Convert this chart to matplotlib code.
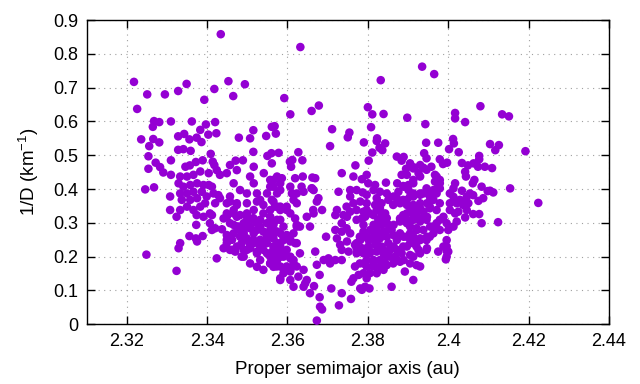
import matplotlib
matplotlib.use("Agg")
import matplotlib.pyplot as plt

plt.rcParams['font.family'] = ['Liberation Sans', 'DejaVu Sans']
plt.rcParams['mathtext.fontset'] = 'custom'
plt.rcParams['mathtext.rm'] = 'Liberation Sans'
plt.rcParams['mathtext.default'] = 'regular'

# (proper semimajor axis [au], 1/D [1/km]), grouped by region
upper_pts = [
    (2.3434, 0.858), (2.3632, 0.820), (2.3935, 0.762), (2.3965, 0.740), (2.3832, 0.722),
    (2.3218, 0.717), (2.3453, 0.719), (2.3349, 0.711), (2.3494, 0.710), (2.3418, 0.696),
    (2.3328, 0.690), (2.3251, 0.680), (2.3295, 0.680), (2.3465, 0.675), (2.3592, 0.669),
    (2.3393, 0.664), (2.3678, 0.647), (2.4080, 0.645), (2.3800, 0.642), (2.3226, 0.637),
    (2.3660, 0.631), (2.4017, 0.625), (2.3607, 0.621), (2.3811, 0.621), (2.3839, 0.622),
    (2.4134, 0.621), (2.4151, 0.615), (2.3898, 0.611), (2.4017, 0.609), (2.3268, 0.601),
    (2.3281, 0.598), (2.3310, 0.600), (2.3362, 0.600), (2.3420, 0.598), (2.4042, 0.598),
    (2.3397, 0.591), (2.3943, 0.592), (2.3265, 0.584), (2.3561, 0.584), (2.3568, 0.586),
    (2.3808, 0.583), (2.3711, 0.577), (2.3383, 0.575), (2.3515, 0.574), (2.3754, 0.567),
    (2.3423, 0.565), (2.3571, 0.564), (2.3403, 0.561), (2.3343, 0.563), (2.3328, 0.556),
    (2.3547, 0.557), (2.3750, 0.553), (2.3374, 0.552), (2.3479, 0.552), (2.3507, 0.550),
    (2.3823, 0.550), (2.4012, 0.548), (2.3236, 0.547), (2.3266, 0.548), (2.3356, 0.547),
    (2.3822, 0.542), (2.3386, 0.539), (2.3281, 0.538), (2.3790, 0.538), (2.3945, 0.537),
    (2.3975, 0.537), (2.3843, 0.535), (2.4014, 0.535), (2.4104, 0.533), (2.4126, 0.530),
    (2.3256, 0.527), (2.3706, 0.527), (2.3829, 0.522), (2.3341, 0.518), (2.4002, 0.518),
    (2.3328, 0.516), (2.3836, 0.515), (2.4117, 0.515), (2.3359, 0.513), (2.4192, 0.512),
    (2.3515, 0.510), (2.3627, 0.509), (2.4026, 0.509), (2.3811, 0.508), (2.3578, 0.507),
    (2.3560, 0.506), (2.3940, 0.506), (2.3409, 0.504), (2.3550, 0.498), (2.4077, 0.498),
    (2.3254, 0.497), (2.3872, 0.496), (2.3889, 0.495), (2.3946, 0.491), (2.3979, 0.488),
    (2.4077, 0.488), (2.3310, 0.485), (2.3389, 0.485), (2.3489, 0.485), (2.3637, 0.485),
    (2.3612, 0.486), (2.3884, 0.484), (2.3471, 0.484), (2.3802, 0.484), (2.3606, 0.481),
    (2.3414, 0.481), (2.3372, 0.480), (2.3272, 0.478), (2.3997, 0.478), (2.4034, 0.477),
    (2.3905, 0.476), (2.4063, 0.476), (2.3987, 0.474), (2.3418, 0.471), (2.3457, 0.471),
    (2.3930, 0.471), (2.3357, 0.470), (2.3769, 0.470), (2.4049, 0.470), (2.3346, 0.466),
    (2.3609, 0.466), (2.3958, 0.466), (2.4074, 0.466), (2.4091, 0.466), (2.3283, 0.465),
    (2.3915, 0.464), (2.3938, 0.463), (2.4109, 0.462), (2.3895, 0.460), (2.3254, 0.460),
]

left_pts = [
    (2.3291, 0.449), (2.3310, 0.442), (2.3333, 0.437), (2.3350, 0.437), (2.3366, 0.442),
    (2.3329, 0.417), (2.3341, 0.407), (2.3358, 0.412), (2.3375, 0.417), (2.3391, 0.412),
    (2.3404, 0.412), (2.3412, 0.407), (2.3387, 0.392), (2.3366, 0.392), (2.3350, 0.387),
    (2.3333, 0.387), (2.3308, 0.378), (2.3337, 0.368), (2.3358, 0.368), (2.3375, 0.373),
    (2.3399, 0.378), (2.3416, 0.387), (2.3428, 0.382), (2.3395, 0.358), (2.3383, 0.348),
    (2.3366, 0.338), (2.3350, 0.348), (2.3333, 0.338), (2.3324, 0.318), (2.3308, 0.338),
    (2.3374, 0.323), (2.3391, 0.318), (2.3407, 0.328), (2.3420, 0.358), (2.3432, 0.373),
    (2.3412, 0.323), (2.3246, 0.399), (2.3268, 0.405), (2.3407, 0.299), (2.3412, 0.279),
    (2.3420, 0.284), (2.3437, 0.281), (2.3373, 0.294), (2.3356, 0.261), (2.3372, 0.254),
    (2.3375, 0.245), (2.3389, 0.261), (2.3333, 0.240), (2.3329, 0.225), (2.3249, 0.206),
    (2.3324, 0.158), (2.3424, 0.195), (2.3441, 0.225), (2.3449, 0.240), (2.3462, 0.250),
    (2.3474, 0.230), (2.3491, 0.200), (2.3462, 0.220), (2.3449, 0.264), (2.3466, 0.269),
    (2.3482, 0.259), (2.3499, 0.250), (2.3516, 0.240), (2.3532, 0.250), (2.3549, 0.259),
    (2.3565, 0.230), (2.3549, 0.210), (2.3524, 0.210), (2.3499, 0.220), (2.3507, 0.180),
    (2.3524, 0.170), (2.3540, 0.161), (2.3557, 0.180), (2.3574, 0.190), (2.3582, 0.136),
    (2.3565, 0.170), (2.3449, 0.447), (2.3474, 0.456), (2.3466, 0.417), (2.3482, 0.397),
    (2.3499, 0.387), (2.3507, 0.437), (2.3516, 0.417), (2.3541, 0.447), (2.3557, 0.427),
    (2.3565, 0.407), (2.3582, 0.397), (2.3549, 0.387), (2.3532, 0.368), (2.3524, 0.387),
    (2.3499, 0.358), (2.3474, 0.358), (2.3457, 0.378), (2.3449, 0.358), (2.3466, 0.338),
    (2.3449, 0.328), (2.3441, 0.313), (2.3474, 0.318), (2.3499, 0.328), (2.3516, 0.338),
    (2.3540, 0.328), (2.3557, 0.338), (2.3574, 0.348), (2.3516, 0.309), (2.3491, 0.299),
    (2.3466, 0.294), (2.3482, 0.279), (2.3507, 0.289), (2.3532, 0.289), (2.3549, 0.299),
    (2.3574, 0.309), (2.3557, 0.279), (2.3582, 0.269), (2.3516, 0.269), (2.3491, 0.269),
    (2.3457, 0.299), (2.3478, 0.289), (2.3499, 0.304), (2.3524, 0.299), (2.3540, 0.274),
    (2.3565, 0.254), (2.3582, 0.240), (2.3532, 0.230), (2.3507, 0.235), (2.3574, 0.220),
    (2.3557, 0.200), (2.3532, 0.190), (2.3582, 0.200), (2.3424, 0.456), (2.3432, 0.442),
    (2.3404, 0.447), (2.3383, 0.452), (2.3516, 0.466),
    (2.3457, 0.363), (2.3474, 0.353), (2.3524, 0.363), (2.3540, 0.353), (2.3565, 0.363),
    (2.3582, 0.348), (2.3598, 0.338), (2.3532, 0.309), (2.3515, 0.314), (2.3499, 0.318),
    (2.3482, 0.323), (2.3466, 0.328), (2.3449, 0.318), (2.3474, 0.289), (2.3491, 0.279),
    (2.3507, 0.284), (2.3524, 0.279), (2.3557, 0.269), (2.3573, 0.274), (2.3565, 0.294),
    (2.3590, 0.259), (2.3549, 0.240), (2.3532, 0.245), (2.3515, 0.250), (2.3499, 0.254),
    (2.3449, 0.250), (2.3457, 0.220), (2.3491, 0.220), (2.3507, 0.225), (2.3524, 0.215),
    (2.3540, 0.220), (2.3557, 0.210), (2.3573, 0.200), (2.3590, 0.210), (2.3607, 0.195),
    (2.3615, 0.180), (2.3623, 0.240), (2.3607, 0.250), (2.3573, 0.171), (2.3590, 0.166),
    (2.3607, 0.156), (2.3486, 0.200), (2.3470, 0.215), (2.3486, 0.240), (2.3623, 0.294),
]

mid_pts = [
    (2.3561, 0.476), (2.3565, 0.427), (2.3557, 0.407), (2.3574, 0.387), (2.3561, 0.368),
    (2.3569, 0.348), (2.3582, 0.338), (2.3557, 0.318), (2.3565, 0.299), (2.3582, 0.309),
    (2.3590, 0.289), (2.3574, 0.274), (2.3557, 0.259), (2.3574, 0.240), (2.3565, 0.220),
    (2.3582, 0.230), (2.3590, 0.249), (2.3598, 0.264), (2.3607, 0.245), (2.3615, 0.269),
    (2.3619, 0.240), (2.3598, 0.220), (2.3590, 0.200), (2.3607, 0.200), (2.3574, 0.190),
    (2.3557, 0.180), (2.3582, 0.171), (2.3598, 0.171), (2.3615, 0.190), (2.3631, 0.210),
    (2.3623, 0.171), (2.3640, 0.161), (2.3627, 0.141), (2.3607, 0.161), (2.3590, 0.151),
    (2.3582, 0.131), (2.3607, 0.131), (2.3615, 0.111), (2.3648, 0.131), (2.3644, 0.121),
    (2.3640, 0.111), (2.3574, 0.437), (2.3586, 0.432), (2.3582, 0.417), (2.3607, 0.407),
    (2.3611, 0.387), (2.3623, 0.387), (2.3615, 0.368), (2.3598, 0.348), (2.3607, 0.328),
    (2.3619, 0.313), (2.3631, 0.289), (2.3623, 0.358), (2.3640, 0.392), (2.3638, 0.437),
    (2.3619, 0.432), (2.3662, 0.434), (2.3665, 0.397), (2.3661, 0.402), (2.3673, 0.363),
    (2.3677, 0.373), (2.3686, 0.338), (2.3665, 0.328), (2.3648, 0.318), (2.3656, 0.289),
    (2.3669, 0.215), (2.3673, 0.176), (2.3680, 0.146), (2.3666, 0.113), (2.3656, 0.092),
    (2.3680, 0.080), (2.3681, 0.052), (2.3686, 0.044), (2.3673, 0.011), (2.3696, 0.259),
    (2.3690, 0.190), (2.3702, 0.195), (2.3706, 0.180), (2.3719, 0.190), (2.3735, 0.190),
    (2.3709, 0.106), (2.3735, 0.092), (2.3728, 0.056), (2.3758, 0.075), (2.3759, 0.126),
    (2.3764, 0.136), (2.3777, 0.146), (2.3768, 0.171), (2.3789, 0.180), (2.3781, 0.106),
    (2.3793, 0.111), (2.3804, 0.106), (2.3785, 0.102), (2.3735, 0.447), (2.3764, 0.437),
    (2.3785, 0.429), (2.3727, 0.392), (2.3756, 0.397), (2.3756, 0.378), (2.3787, 0.390),
    (2.3723, 0.338), (2.3719, 0.323), (2.3735, 0.299), (2.3748, 0.318), (2.3756, 0.333),
    (2.3764, 0.358), (2.3781, 0.363), (2.3797, 0.358), (2.3772, 0.309), (2.3785, 0.313),
    (2.3789, 0.333), (2.3719, 0.279), (2.3735, 0.274), (2.3723, 0.254), (2.3756, 0.269),
    (2.3748, 0.245), (2.3731, 0.235), (2.3735, 0.220), (2.3752, 0.215), (2.3772, 0.240),
    (2.3772, 0.225), (2.3669, 0.432), (2.3635, 0.407), (2.3660, 0.402), (2.3623, 0.289),
    (2.3664, 0.338), (2.3772, 0.397), (2.3797, 0.383), (2.3747, 0.348), (2.3739, 0.323),
    (2.3772, 0.338), (2.3793, 0.318), (2.3747, 0.284), (2.3789, 0.294), (2.3801, 0.417),
    (2.3797, 0.442),
]

right_pts = [
    (2.3806, 0.279), (2.3822, 0.289), (2.3814, 0.259), (2.3802, 0.249), (2.3789, 0.259),
    (2.3781, 0.249), (2.3785, 0.225), (2.3797, 0.210), (2.3806, 0.215), (2.3822, 0.240),
    (2.3830, 0.259), (2.3839, 0.274), (2.3855, 0.284), (2.3847, 0.299), (2.3864, 0.294),
    (2.3839, 0.309), (2.3822, 0.338), (2.3830, 0.343), (2.3843, 0.328), (2.3814, 0.323),
    (2.3797, 0.338), (2.3818, 0.412), (2.3814, 0.397), (2.3830, 0.392), (2.3822, 0.373),
    (2.3818, 0.353), (2.3847, 0.387), (2.3851, 0.368), (2.3864, 0.378), (2.3876, 0.392),
    (2.3889, 0.407), (2.3901, 0.412), (2.3913, 0.417), (2.3884, 0.442), (2.3880, 0.358),
    (2.3897, 0.368), (2.3913, 0.378), (2.3930, 0.387), (2.3947, 0.392), (2.3947, 0.358),
    (2.3930, 0.343), (2.3913, 0.338), (2.3897, 0.328), (2.3880, 0.313), (2.3897, 0.299),
    (2.3913, 0.309), (2.3930, 0.313), (2.3947, 0.318), (2.3955, 0.289), (2.3938, 0.279),
    (2.3922, 0.279), (2.3905, 0.269), (2.3889, 0.259), (2.3872, 0.249), (2.3864, 0.230),
    (2.3880, 0.220), (2.3897, 0.230), (2.3913, 0.240), (2.3930, 0.249), (2.3947, 0.259),
    (2.3947, 0.225), (2.3926, 0.220), (2.3905, 0.205), (2.3889, 0.190), (2.3872, 0.190),
    (2.3855, 0.200), (2.3839, 0.210), (2.3830, 0.190), (2.3843, 0.180), (2.3814, 0.180),
    (2.3805, 0.328), (2.3834, 0.323), (2.3847, 0.314), (2.3826, 0.309), (2.3814, 0.294),
    (2.3834, 0.294), (2.3851, 0.294), (2.3859, 0.279), (2.3843, 0.274), (2.3822, 0.274),
    (2.3789, 0.274), (2.3780, 0.259), (2.3797, 0.259), (2.3814, 0.254), (2.3830, 0.254),
    (2.3847, 0.259), (2.3863, 0.264), (2.3880, 0.269), (2.3851, 0.240), (2.3834, 0.230),
    (2.3818, 0.235), (2.3801, 0.230), (2.3768, 0.235), (2.3772, 0.210), (2.3789, 0.210),
    (2.3805, 0.210), (2.3822, 0.215), (2.3839, 0.220), (2.3855, 0.220), (2.3872, 0.220),
    (2.3888, 0.230), (2.3884, 0.210), (2.3868, 0.200), (2.3847, 0.200), (2.3814, 0.190),
    (2.3797, 0.190), (2.3780, 0.180), (2.3797, 0.171), (2.3814, 0.171), (2.3830, 0.171),
    (2.3847, 0.175), (2.3863, 0.180), (2.3880, 0.185), (2.3805, 0.151), (2.3822, 0.151),
    (2.3839, 0.161), (2.3789, 0.151), (2.3797, 0.136), (2.3859, 0.111), (2.3892, 0.156),
    (2.3913, 0.131), (2.3905, 0.180), (2.3921, 0.175), (2.3930, 0.171), (2.3913, 0.200),
    (2.3930, 0.210), (2.3946, 0.220), (2.3921, 0.230), (2.3905, 0.240), (2.3897, 0.259),
    (2.3913, 0.259), (2.3930, 0.254), (2.3946, 0.249), (2.3905, 0.289), (2.3921, 0.284),
    (2.3946, 0.309), (2.3930, 0.304), (2.3913, 0.314), (2.3897, 0.309), (2.3880, 0.304),
    (2.3888, 0.323), (2.3905, 0.333), (2.3921, 0.328), (2.3938, 0.333), (2.3954, 0.343),
    (2.3930, 0.358), (2.3913, 0.353), (2.3897, 0.353), (2.3863, 0.353), (2.3872, 0.373),
    (2.3888, 0.368), (2.3905, 0.378), (2.3930, 0.383), (2.3954, 0.378), (2.3946, 0.402),
    (2.3938, 0.387), (2.3913, 0.387), (2.3834, 0.358), (2.3996, 0.249), (2.3988, 0.230),
    (2.3975, 0.215), (2.3996, 0.200), (2.4000, 0.215), (2.3971, 0.387), (2.3979, 0.402),
    (2.3963, 0.397), (2.3897, 0.442), (2.3913, 0.427), (2.3930, 0.437), (2.3926, 0.447),
    (2.3913, 0.461), (2.3946, 0.457), (2.3971, 0.437), (2.3967, 0.422), (2.3979, 0.417),
    (2.3845, 0.419), (2.3873, 0.417), (2.3888, 0.409), (2.3901, 0.397),
]

edge_pts = [
    (2.4042, 0.451), (2.4044, 0.437), (2.4065, 0.427), (2.4061, 0.417), (2.4083, 0.407),
    (2.4017, 0.417), (2.4154, 0.402), (2.4224, 0.359), (2.4104, 0.395), (2.4112, 0.390),
    (2.4098, 0.394), (2.4087, 0.373), (2.4075, 0.365), (2.4034, 0.395), (2.3967, 0.442),
    (2.3979, 0.427), (2.3975, 0.407), (2.4013, 0.402), (2.4004, 0.387), (2.4054, 0.387),
    (2.4062, 0.382), (2.4046, 0.377), (2.4037, 0.363), (2.4050, 0.358), (2.4013, 0.377),
    (2.4021, 0.358), (2.4004, 0.358), (2.4017, 0.328), (2.4004, 0.338), (2.3979, 0.358),
    (2.3971, 0.338), (2.3963, 0.368), (2.3954, 0.348), (2.3988, 0.318), (2.3979, 0.309),
    (2.3971, 0.299), (2.3996, 0.299), (2.3963, 0.289), (2.4037, 0.353), (2.4046, 0.338),
    (2.4062, 0.326), (2.4077, 0.326), (2.4042, 0.316), (2.4021, 0.304), (2.4013, 0.289),
    (2.4000, 0.279), (2.4083, 0.299), (2.4124, 0.302), (2.3963, 0.269), (2.3979, 0.279),
    (2.3954, 0.259), (2.4029, 0.368), (2.3996, 0.230), (2.3996, 0.217), (2.3994, 0.192),
    (2.4025, 0.333),
]

x_ticks = [2.32, 2.34, 2.36, 2.38, 2.40, 2.42, 2.44]
x_tick_labels = ['2.32', '2.34', '2.36', '2.38', '2.4', '2.42', '2.44']
y_ticks = [0, 0.1, 0.2, 0.3, 0.4, 0.5, 0.6, 0.7, 0.8, 0.9]
y_tick_labels = ['0', '0.1', '0.2', '0.3', '0.4', '0.5', '0.6', '0.7', '0.8', '0.9']

groups = [upper_pts, left_pts, mid_pts, right_pts, edge_pts]
a_vals = [p[0] for g in groups for p in g]
v_vals = [p[1] for g in groups for p in g]

fig = plt.figure(figsize=(6.4, 3.84), dpi=100)
ax = fig.add_axes([0.1352, 0.1555, 0.8164, 0.7924])
ax.scatter(a_vals, v_vals, s=38, c='#9400d3', edgecolors='none', zorder=3, clip_on=False)

ax.set_xlim(2.31, 2.44)
ax.set_ylim(0, 0.9)
ax.set_xticks(x_ticks)
ax.set_xticklabels(x_tick_labels)
ax.set_yticks(y_ticks)
ax.set_yticklabels(y_tick_labels)
ax.grid(True, color='#a0a0a0', linestyle=(0, (1, 4)), linewidth=0.8, zorder=0)
ax.set_axisbelow(True)
ax.tick_params(direction='in', length=5.5, width=1, top=True, right=True,
               labelsize=13, pad=6, colors='black')
for sp in ax.spines.values():
    sp.set_linewidth(1.0)
    sp.set_color('black')

ax.set_xlabel('Proper semimajor axis (au)', fontsize=13.5)
ax.set_ylabel('1/D (km$^{-1}$)', fontsize=13.5)
ax.xaxis.set_label_coords(0.5, -0.12)
ax.yaxis.set_label_coords(-0.088, 0.5)

fig.savefig('out.png', dpi=100)
